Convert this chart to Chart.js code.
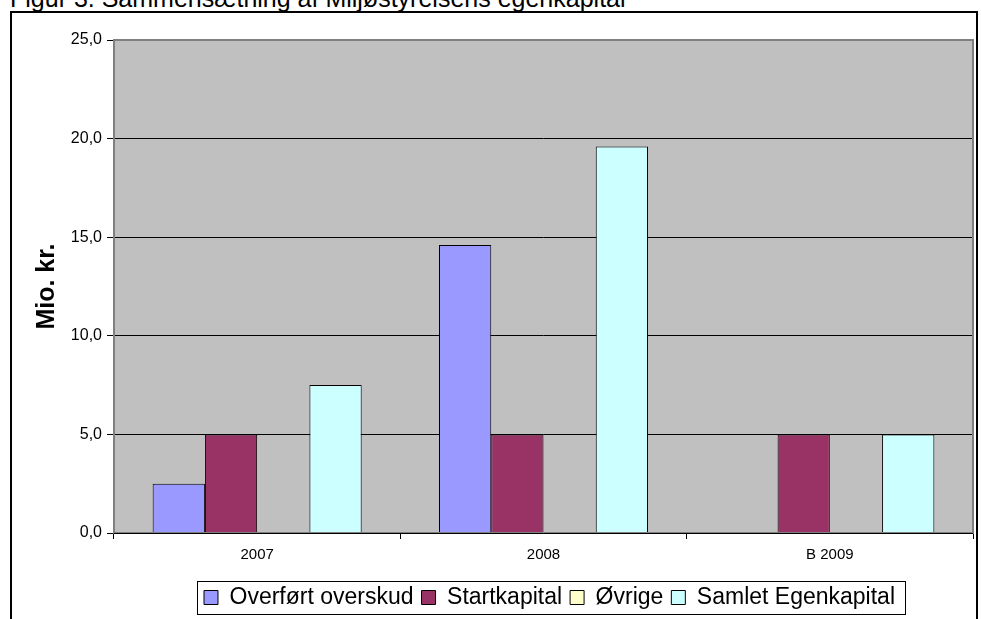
<!DOCTYPE html>
<html>
<head>
<meta charset="utf-8">
<script src="https://cdn.jsdelivr.net/npm/chart.js@4.4.1/dist/chart.umd.min.js"></script>
<style>
  body { margin: 0; background: #fff; }
  #wrap { position: relative; width: 981px; height: 619px; overflow: hidden; }
  #title { position: absolute; left: 10px; top: -14px; font: 25px/25px "Liberation Sans", Arial, sans-serif; color: #000; white-space: nowrap; }
  #frame { position: absolute; left: 10px; top: 11px; width: 968px; height: 700px; border: 2px solid #000; box-sizing: border-box; }
  #chart { position: absolute; left: 0; top: 0; }
</style>
</head>
<body>
<div id="wrap">
  <div id="title">Figur 3. Sammensætning af Miljøstyrelsens egenkapital</div>
  <div id="frame"></div>
  <canvas id="chart" width="981" height="619"></canvas>
</div>
<script>
const years = ['2007', '2008', 'B 2009'];
const overfortOverskud = [2.5, 14.6, 0];
const startkapital = [5.0, 5.0, 5.0];
const ovrige = [0, 0, 0];
const samletEgenkapital = [7.5, 19.6, 5.0];

const seriesNames = ['Overført overskud', 'Startkapital', 'Øvrige', 'Samlet Egenkapital'];
const seriesColors = ['#9999FF', '#993366', '#FFFFCC', '#CCFFFF'];
const seriesData = [overfortOverskud, startkapital, ovrige, samletEgenkapital];

const FONT = 'Liberation Sans, Arial, sans-serif';

// grey plot area like the old Excel chart
const plotBg = {
  id: 'plotBg',
  beforeDraw(chart) {
    const { ctx, chartArea: a } = chart;
    ctx.save();
    ctx.fillStyle = '#C0C0C0';
    ctx.fillRect(a.left, a.top, a.right - a.left, a.bottom - a.top);
    ctx.restore();
  },
  afterDatasetsDraw(chart) {
    const { ctx, chartArea: a } = chart;
    ctx.save();
    ctx.strokeStyle = '#808080';
    ctx.lineWidth = 2;
    ctx.strokeRect(a.left, a.top, a.right - a.left, a.bottom - a.top);
    ctx.strokeStyle = '#000';
    ctx.lineWidth = 1;
    ctx.beginPath();
    ctx.moveTo(a.left, a.bottom + 0.5);
    ctx.lineTo(a.right, a.bottom + 0.5);
    ctx.stroke();
    ctx.restore();
  }
};

// legend sits under the plot area, not the canvas middle, and has a frame
const legendBox = {
  id: 'legendBox',
  afterLayout(chart) {
    const lg = chart.legend;
    const dx = 58;
    lg.left += dx;
    lg.right += dx;
  },
  afterDraw(chart) {
    const boxes = chart.legend.legendHitBoxes;
    if (!boxes || !boxes.length) return;
    const ctx = chart.ctx;
    const last = boxes[boxes.length - 1];
    const left = Math.round(boxes[0].left - 7);
    const right = Math.round(last.left + last.width + 10);
    const top = Math.round(boxes[0].top - 5);
    const bottom = Math.round(boxes[0].top + boxes[0].height + 5);
    ctx.save();
    ctx.strokeStyle = '#000';
    ctx.lineWidth = 1;
    ctx.strokeRect(left + 0.5, top + 0.5, right - left, bottom - top);
    ctx.restore();
  }
};

new Chart(document.getElementById('chart'), {
  type: 'bar',
  data: {
    labels: years,
    datasets: seriesNames.map((name, i) => ({
      label: name,
      data: seriesData[i],
      backgroundColor: seriesColors[i],
      borderColor: '#000',
      borderWidth: 1,
      categoryPercentage: 0.73,
      barPercentage: 1.0
    }))
  },
  options: {
    responsive: false,
    animation: false,
    layout: { padding: { top: 40, right: 8, left: 10, bottom: 0 } },
    plugins: {
      title: { display: false },
      tooltip: { enabled: false },
      legend: {
        position: 'bottom',
        labels: {
          color: '#000',
          font: { family: FONT, size: 23 },
          boxWidth: 14,
          boxHeight: 14,
          padding: 8
        }
      }
    },
    scales: {
      x: {
        grid: { display: true, drawOnChartArea: false, offset: true, color: '#000', tickLength: 6 },
        border: { display: false },
        ticks: { color: '#000', font: { family: FONT, size: 15 }, padding: 7 },
        afterFit(scale) { scale.height = 45; }
      },
      y: {
        min: 0,
        max: 25,
        ticks: {
          stepSize: 5,
          color: '#000',
          font: { family: FONT, size: 16 },
          padding: 5,
          callback: v => v.toFixed(1).replace('.', ',')
        },
        grid: { color: '#000', lineWidth: 1, tickLength: 7 },
        border: { display: false },
        title: {
          display: true,
          text: 'Mio. kr.',
          color: '#000',
          font: { family: FONT, size: 25, weight: 'bold' },
          padding: { top: 22, bottom: 0 }
        },
        afterFit(scale) { scale.width = 104; }
      }
    }
  },
  plugins: [plotBg, legendBox]
});
</script>
</body>
</html>
